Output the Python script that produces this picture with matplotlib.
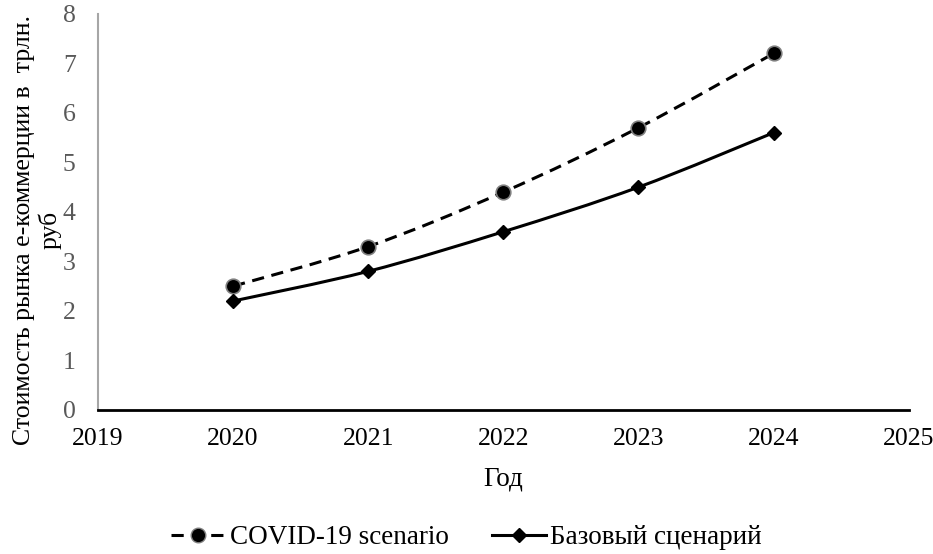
import numpy as np
import matplotlib.pyplot as plt
from matplotlib.path import Path
from matplotlib.patches import PathPatch
from matplotlib.lines import Line2D

plt.rcParams['font.family'] = ['Liberation Serif', 'DejaVu Serif']

# Data
years = [2020, 2021, 2022, 2023, 2024]
covid = [2.5, 3.3, 4.4, 5.7, 7.2]
base = [2.2, 2.8, 3.6, 4.5, 5.6]
x_ticks = [2019, 2020, 2021, 2022, 2023, 2024, 2025]
y_ticks = [0, 1, 2, 3, 4, 5, 6, 7, 8]


def smooth_path(x, y, k=1 / 6):
    # Excel-like smoothed line: cubic Bezier segments through the points
    x = np.asarray(x, float)
    y = np.asarray(y, float)
    n = len(x)
    verts = [(x[0], y[0])]
    codes = [Path.MOVETO]
    for i in range(n - 1):
        p0 = i - 1 if i > 0 else i
        p3 = i + 2 if i + 2 < n else i + 1
        c1 = (x[i] + (x[i + 1] - x[p0]) * k, y[i] + (y[i + 1] - y[p0]) * k)
        c2 = (x[i + 1] - (x[p3] - x[i]) * k, y[i + 1] - (y[p3] - y[i]) * k)
        verts += [c1, c2, (x[i + 1], y[i + 1])]
        codes += [Path.CURVE4] * 3
    return Path(verts, codes)


fig = plt.figure(figsize=(9.33, 5.54), dpi=100)
ax = fig.add_axes([0.105, 0.26, 0.869, 0.715])

ax.add_patch(PathPatch(smooth_path(years, covid), fill=False, lw=2.2,
                       ls=(0, (4, 2.5)), color='black', zorder=2))
ax.add_patch(PathPatch(smooth_path(years, base), fill=False, lw=2.2,
                       color='black', zorder=2))
ax.plot(years, covid, ls='none', marker='o', ms=10.5, mfc='black',
        mec='#7f7f7f', mew=1.2, zorder=3)
ax.plot(years, base, ls='none', marker='D', ms=7.5, color='black', zorder=3)

ax.set_xlim(2019, 2025)
ax.set_ylim(0, 8)
ax.set_xticks(x_ticks)
ax.set_yticks(y_ticks)
ax.tick_params(axis='both', length=0, labelsize=18.5)
ax.tick_params(axis='x', pad=13)
ax.tick_params(axis='y', labelcolor='#595959', pad=16)
for s in ['top', 'right']:
    ax.spines[s].set_visible(False)
ax.spines['left'].set_color('#a6a6a6')
ax.spines['left'].set_linewidth(1.5)
ax.spines['bottom'].set_color('black')
ax.spines['bottom'].set_linewidth(2)

ax.set_xlabel('Год', fontsize=19.5, labelpad=12)
ax.set_ylabel('Стоимость рынка е-коммерции в  трлн.\nруб', fontsize=18.5,
              linespacing=1.15)
ax.yaxis.set_label_coords(-0.045, 0.455)

handles = [
    Line2D([], [], color='black', lw=2.2, ls=(0, (4, 2.5)), marker='o', ms=10.5,
           mfc='black', mec='#7f7f7f'),
    Line2D([], [], color='black', lw=2.2, marker='D', ms=7.5),
]
fig.legend(handles, ['COVID-19 scenario', 'Базовый сценарий'], loc='center',
           bbox_to_anchor=(0.5, 0.029), ncol=2, frameon=False, fontsize=19.5,
           handlelength=2.0, handletextpad=0.15, columnspacing=1.6)

fig.savefig('out.png', dpi=100)
